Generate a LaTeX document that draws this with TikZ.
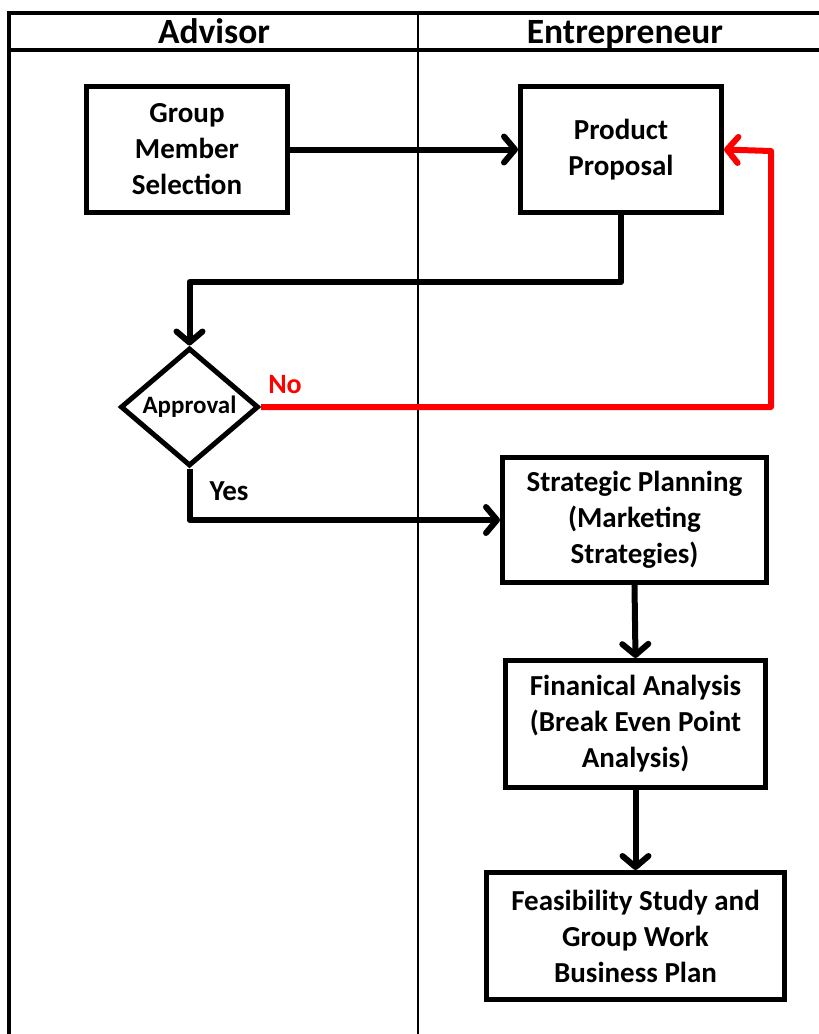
\documentclass[tikz,border=0pt]{standalone}
\usepackage{fontspec}
\setmainfont{Carlito}
\usetikzlibrary{arrows.meta,shapes.geometric}

\begin{document}
\begin{tikzpicture}[x=1pt,y=-1pt,
  lanetext/.style={font=\fontsize{35.5}{40}\selectfont\bfseries, inner sep=0pt, anchor=base},
  stepbox/.style={draw, line width=5pt, align=center, inner sep=0pt,
    font=\fontsize{29}{36}\selectfont\bfseries},
  decision/.style={draw, diamond, aspect=1.17, line width=5pt, inner sep=0pt,
    minimum width=138pt, minimum height=118pt,
    font=\fontsize{25}{30}\selectfont\bfseries},
  flow/.style={line width=6pt, line join=round,
    -{Straight Barb[length=11pt, width=26pt, line cap=round, line join=round]}},
  lbl/.style={font=\fontsize{29}{35}\selectfont\bfseries, inner sep=0pt}
]
  % canvas
  \useasboundingbox (0,0) rectangle (819,1034);

  % swimlane frame
  \draw[line width=4pt] (9,1040) -- (9,13) -- (830,13);
  \draw[line width=4pt] (9,50) -- (830,50);
  \draw[line width=2pt] (418,13) -- (418,1040);
  \node[lanetext] (laneA) at (214,43.5) {Advisor};
  \node[lanetext] (laneE) at (625,43.5) {Entrepreneur};

  % process steps
  \node[stepbox, minimum width=201pt, minimum height=126pt] (group) at (187,149.5)
    {Group\\Member\\Selection};
  \node[stepbox, minimum width=201pt, minimum height=126pt] (prod) at (621,149.5)
    {Product\\Proposal};
  \node[decision] (appr) at (189.5,407) {Approval};
  \node[stepbox, minimum width=264pt, minimum height=125pt] (strat) at (634.5,520)
    {Strategic Planning\\(Marketing\\Strategies)};
  \node[stepbox, minimum width=260pt, minimum height=127pt] (fin) at (635.5,724)
    {Finanical Analysis\\(Break Even Point\\Analysis)};
  \node[stepbox, minimum width=298pt, minimum height=127pt] (feas) at (635.5,936)
    {Feasibility Study and\\Group Work\\Business Plan};

  % bend points
  \coordinate (down1) at (621,282);
  \coordinate (redturn) at (771,151);

  % connectors
  \draw[flow] (group.east) -- (prod.west);
  \draw[flow] (prod.south) |- (down1) -| (appr.north);
  \draw[flow, red] (appr.east) -| (redturn) -- (prod.east);
  \draw[flow] (appr.south) |- (strat.west);
  \draw[flow] (strat.south) -- (fin.north);
  \draw[flow] (fin.south) -- (feas.north);

  % decision labels
  \node[lbl, red, font=\fontsize{28}{34}\selectfont\bfseries] (nolbl) at (285,385) {No};
  \node[lbl] (yeslbl) at (229,491) {Yes};
\end{tikzpicture}
\end{document}
